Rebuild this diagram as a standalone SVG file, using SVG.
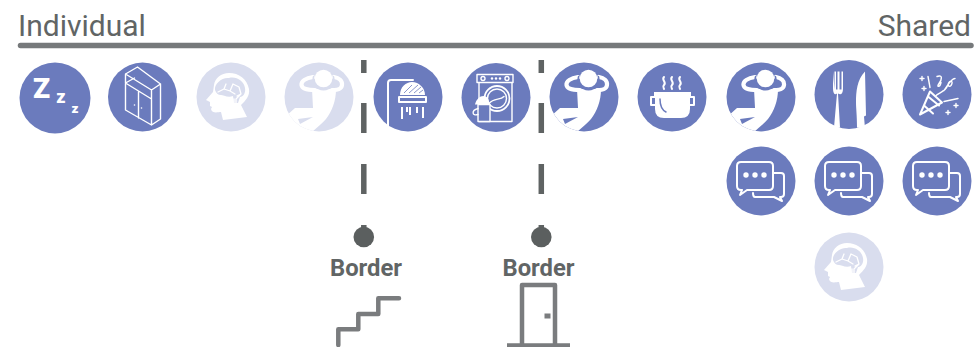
<svg xmlns="http://www.w3.org/2000/svg" width="974" height="347" viewBox="0 0 974 347">
<style>
.t{font-family:Roboto,"Liberation Sans",sans-serif;fill:#616565}
.h{font-size:30px}
.b{font-size:23.800px;font-weight:700;text-anchor:middle}
.c{fill:#6b7bbd}
.f{fill:#d9ddee}
.w{fill:#fff}
.l{fill:none;stroke:#fff;stroke-width:1.400;stroke-linejoin:round;stroke-linecap:round}
.m{fill:none;stroke:#fff;stroke-width:2;stroke-linejoin:round;stroke-linecap:round}
.z{font-family:Roboto,"Liberation Sans",sans-serif;font-weight:900;fill:#fff;text-anchor:middle}
.g{fill:none;stroke:#7a7c7e;stroke-width:4.500}
.dk{color:#6b7bbd}
.lt{color:#d9ddee}
</style>
<defs>
<clipPath id="disc"><circle r="34.500"/></clipPath>
<g id="person" clip-path="url(#disc)">
<path d="M-6-20C-13-19-18-16-17.500-12C-17-8-10-7-4-7M15-20C20-19 23.500-16 23-12C22.500-8 18-6.500 13-7" fill="none" stroke="#fff" stroke-width="4.200" stroke-linecap="round"/>
<path class="w" d="M-7-8H17C17 4 13 14 7 22C3 27-3 31-8 36L-34 36L-34 20L-24 11L-6 11Z"/>
<path d="M-21 22L-6 20L-19 27Z" fill="currentColor"/>
<path d="M-5.200-21A10.300 10.300 0 1 0 14.200-21" fill="none" stroke="currentColor" stroke-width="1.600"/>
<circle class="w" cx="4.500" cy="-18.500" r="8.800"/>
</g>
<g id="brain">
<path class="w" d="M-2-24C-10-24-16-19-17-12L-18-5L-25 3L-21 5L-21 9L-19 10L-20 12C-19 17-13 15-10 15L-8 23L16 20L10 8C15 3 19-1 18-8C16-18 8-24-2-24Z"/>
<path class="f" d="M-16-7C-17-13-9-20-2-19C5-21 13-16 14-9C15-4 12 0 9 0L7 6H3L2-1C-3 1-8-2-10-2C-13-2-15-4-16-7Z"/>
<path d="M-13-5L-7-8L-5-13M-7-8L-1-6L2-13M-1-6L4-3M2-13L8-10L10-3L5 2V10M10-3L6-1M3 2V10" fill="none" stroke="#fff" stroke-width="1.300" stroke-linejoin="round" stroke-linecap="round"/>
</g>
<g id="talk">
<path class="m" d="M-20-19H8Q12-19 12-15V5Q12 9 8 9H-14L-21 14L-19 9H-20Q-24 9-24 5V-15Q-24-19-20-19Z"/>
<path class="m" d="M13-8H20Q23-8 23-5V13Q23 16 20 16H19L21 20L13 16H-6Q-8 16-8 12"/>
<circle class="w" cx="-15" cy="-6" r="2.700"/><circle class="w" cx="-6" cy="-6" r="2.700"/><circle class="w" cx="3" cy="-6" r="2.700"/>
</g>
</defs>

<g id="connectors">
<path d="M20.500 45.500H971" fill="none" stroke="#76797b" stroke-width="5.500" stroke-linecap="round"/>
<path d="M363.800 60V73M363.800 103V133M363.800 164V194M363.800 225V232" fill="none" stroke="#5f6363" stroke-width="5.500"/>
<path d="M541.300 60V73M541.300 103V133M541.300 164V194M541.300 225V232" fill="none" stroke="#5f6363" stroke-width="5.500"/>
</g>

<g id="label-individual"><text class="t h" x="18" y="36">Individual</text></g>
<g id="label-shared"><text class="t h" x="971" y="36" text-anchor="end">Shared</text></g>

<g id="sleep" transform="translate(55 98)"><circle class="c" r="35.500"/>
<text class="z" x="-13.500" y="0" font-size="28">Z</text><text class="z" x="6" y="5" font-size="18">z</text><text class="z" x="20" y="15" font-size="13.500">z</text></g>

<g id="wardrobe" transform="translate(142.500 97)"><circle class="c" r="34.500"/>
<path class="l" d="M-17-23L-5-30L18-13L18 22L9 28L-17 13ZM-17-23L9-7L18-13M9-7V28M-17-14L9 2M-17-14L-8-19M-4-5V21"/>
<circle class="w" cx="-8" cy="8" r=".8"/><circle class="w" cx="-1" cy="11" r=".8"/></g>

<g id="thinking-1" transform="translate(231 97)"><circle class="f" r="34.500"/><use href="#brain"/></g>
<g id="relax-1" class="lt" transform="translate(319 97)"><circle class="f" r="34.500"/><use href="#person"/></g>

<g id="shower" transform="translate(408 97)"><circle class="c" r="34.500"/>
<path class="m" d="M-20 30V-14Q-20-17-17-17H5"/>
<path class="w" d="M-8-2C-8-10-2-15 4-15C11-15 17-9 17-2Z"/>
<path d="M-4-4L4-12M1-4L10-12M6-4L13-10M11-4L15-7" stroke="#6b7bbd" stroke-width=".8" fill="none"/>
<path class="m" d="M-9 0H18V5H-9Z"/>
<path d="M-6 10V22M2 10V18M9 10V16M15 10V21M-1 10V15" stroke="#fff" stroke-width="2" fill="none"/></g>

<g id="washer" transform="translate(496 97.500)"><circle class="c" r="34.500"/>
<path class="l" d="M-19-23H17V-15H-19ZM-17-15V24H16V-15"/>
<circle class="l" cx="-13" cy="-19" r="2"/><circle class="l" cx="11" cy="-19" r="2"/>
<circle class="w" cx="-4" cy="-19" r="1.200"/><circle class="w" cx="0" cy="-19" r="1.200"/><circle class="w" cx="4" cy="-19" r="1.200"/>
<circle cx="1" cy="1" r="12.500" fill="none" stroke="#fff" stroke-width="1.800"/><circle class="l" cx="1" cy="1" r="9.500"/>
<path d="M-18 7H-6L-6 24H-18Z" fill="#6b7bbd" stroke="#fff" stroke-width="1.400" stroke-linejoin="round"/>
<path d="M-21 7C-19-1-12-4-8 1L-6 7Z" fill="#fff"/>
<path class="l" d="M-7 6C-2 0 4 3 8-1M-18 11C-25 13-24 19-18 17"/></g>

<g id="relax-2" class="dk" transform="translate(584 97)"><circle class="c" r="34.500"/><use href="#person"/></g>

<g id="cook" transform="translate(672 97)"><circle class="c" r="34.500"/>
<path class="w" d="M-18-5H19V-1H18V12Q18 21 9 21H-8Q-17 21-17 12V-1H-18Z"/>
<path d="M-12 2C-12 8-10 13-6 15" fill="none" stroke="#6b7bbd" stroke-width="1.500" stroke-linecap="round"/>
<path class="m" d="M-17 0H-21V8H-17M18 0H22V8H18" stroke-width="1.600"/>
<path class="m" d="M-8-20C-11-17-5-15-8-12C-10-10-8-9-8-8M0-20C-3-17 3-15 0-12C-2-10 0-9 0-8M8-20C5-17 11-15 8-12C6-10 8-9 8-8" stroke-width="1.500"/></g>

<g id="relax-3" class="dk" transform="translate(761 97)"><circle class="c" r="34.500"/><use href="#person"/></g>

<g id="meal" transform="translate(849 94.500)"><circle class="c" r="34.500"/>
<path class="w" d="M-16-23V-6C-16-1-14 1-12-1L-15 33H-9L-11-1C-8 1-6-1-6-6V-23H-7.500V-5H-9.500V-23H-11.500V-5H-13V-23H-14.500V-5Z"/>
<path class="w" d="M16-23C8-15 7-3 7 8C7 14 8 20 8 33L16 34L15 22L17 21Z"/></g>

<g id="party" transform="translate(937 94.500)"><circle class="c" r="34.500"/>
<path class="m" d="M-17 20L-7-3L5 8ZM-13 11L-4 19M-9 2L2 11"/>
<path class="l" d="M-9-18L-7-7M0-18C6-20 5-15 2-11C-1-7 3-7 4-12" stroke-width="1.600"/>
<path class="l" d="M-1 1C5-3 9-4 11-10C13-16 17-13 14-9C12-7 10-9 12-12M7-4C10-8 14-16 18-16M7 7L21 4" stroke-width="1.600"/>
<path class="l" d="M-17-16H-13M-15-18V-14M-15-6H-11M-13-8V-4M17 11H21M19 9V13M9 18H13M11 16V20" stroke-width="1.600"/></g>

<g id="talk-1" transform="translate(761 181)"><circle class="c" r="34.500"/><use href="#talk"/></g>
<g id="talk-2" transform="translate(849 181)"><circle class="c" r="34.500"/><use href="#talk"/></g>
<g id="talk-3" transform="translate(937 181)"><circle class="c" r="34.500"/><use href="#talk"/></g>
<g id="thinking-2" transform="translate(849 267)"><circle class="f" r="34.500"/><use href="#brain"/></g>

<g id="border-stairs">
<circle cx="363.800" cy="237" r="10.300" fill="#5b5f5f"/>
<text class="t b" x="366" y="276">Border</text>
<path class="g" stroke-linecap="round" stroke-linejoin="round" d="M338.300 345V329.300H358.300V314H378.300V298.300H399"/>
</g>
<g id="border-door">
<circle cx="541.300" cy="237" r="10.300" fill="#5b5f5f"/>
<text class="t b" x="538.500" y="276">Border</text>
<path class="g" stroke-linejoin="round" d="M522 345V285H555V345M507 345.500H570"/>
<rect x="544.500" y="313.500" width="6" height="5" fill="#7a7c7e"/>
</g>
</svg>
